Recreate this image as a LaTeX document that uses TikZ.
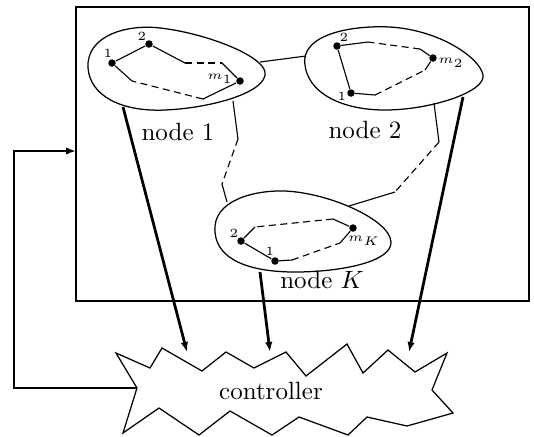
\documentclass[tikz,border=0pt]{standalone}
\usetikzlibrary{arrows.meta}
\begin{document}
\begin{tikzpicture}[x=0.4pt,y=-0.4pt,
  dot/.style={circle,fill,inner sep=0pt,minimum size=3pt},
  lbl/.style={font=\tiny,inner sep=0.5pt},
  blob/.style={line width=0.5pt},
  seg/.style={line width=0.45pt},
  dsh/.style={line width=0.45pt,dash pattern=on 2.8pt off 1.8pt},
  feed/.style={line width=1.1pt,-{Latex[length=4pt,width=3pt]}},
  title/.style={font=\normalsize,inner sep=0pt}]
\useasboundingbox (0,0) rectangle (534,436);

% outer frame
\draw[line width=0.45pt] (76,7) rectangle (529,301);
\coordinate (frameL) at (76,151);

% --- node 1 ---
\draw[blob] (88,68) .. controls (86,35) and (128,24) .. (160,28)
  .. controls (205,33) and (262,55) .. (265,72)
  .. controls (268,92) and (212,108) .. (165,110)
  .. controls (120,112) and (90,95) .. cycle;
\node[dot] (a1) at (112,63) {};
\node[dot] (a2) at (149,44) {};
\node[dot] (am) at (240,81) {};
\node[lbl] at (108,53) {1};
\node[lbl] at (142,36) {2};
\node[lbl] at (220,79) {$m_1$};
\coordinate (a2b) at (185,63);
\coordinate (a2c) at (222,63);
\coordinate (amb) at (203,99);
\coordinate (amc) at (132,81);
\draw[seg] (a1) -- (a2) -- (a2b);
\draw[dsh] (a2b) -- (a2c);
\draw[seg] (a2c) -- (am) -- (amb);
\draw[dsh] (amb) -- (amc);
\draw[seg] (amc) -- (a1);
\node[title] (t1) at (178,132) {node 1};

% --- node 2 ---
\draw[blob] (305,65) .. controls (300,35) and (350,25) .. (390,27)
  .. controls (440,30) and (480,58) .. (483,75)
  .. controls (486,92) and (430,110) .. (385,110)
  .. controls (340,110) and (308,92) .. cycle;
\node[dot] (b2) at (337,46) {};
\node[dot] (b1) at (351,93) {};
\node[dot] (bm) at (433,58) {};
\node[lbl] at (344,37) {2};
\node[lbl] at (342,96) {1};
\node[lbl] at (451,63) {$m_2$};
\coordinate (b1b) at (375,95);
\coordinate (b1c) at (425,70);
\coordinate (bmb) at (420,49);
\coordinate (bmc) at (368,42);
\draw[seg] (b2) -- (b1) -- (b1b);
\draw[dsh] (b1b) -- (b1c);
\draw[seg] (b1c) -- (bm) -- (bmb);
\draw[dsh] (bmb) -- (bmc);
\draw[seg] (bmc) -- (b2);
\node[title] (t2) at (365,130) {node 2};

% --- node K ---
\draw[blob] (215,232) .. controls (212,200) and (255,190) .. (285,191)
  .. controls (330,193) and (390,220) .. (391,242)
  .. controls (392,262) and (340,272) .. (295,272)
  .. controls (250,272) and (217,260) .. cycle;
\node[dot] (k2) at (241,241) {};
\node[dot] (k1) at (275,261) {};
\node[dot] (km) at (353,228) {};
\node[lbl] at (234,233) {2};
\node[lbl] at (270,251) {1};
\node[lbl] at (364,241) {$m_K$};
\coordinate (k1b) at (292,260);
\coordinate (k1c) at (340,243);
\coordinate (kmb) at (333,219);
\coordinate (kmc) at (255,227);
\draw[seg] (k2) -- (k1) -- (k1b);
\draw[dsh] (k1b) -- (k1c);
\draw[seg] (k1c) -- (km) -- (kmb);
\draw[dsh] (kmb) -- (kmc);
\draw[seg] (kmc) -- (k2);
\node[title] (tK) at (322,280) {node $K$};

% --- links between nodes ---
\coordinate (e1r) at (260,62);
\coordinate (e2l) at (306,56);
\draw[seg] (e1r) -- (e2l);

\coordinate (e1b) at (233,101);
\coordinate (p1) at (238,139);
\coordinate (p2) at (222,184);
\coordinate (eKt) at (227,202);
\draw[seg] (e1b) -- (p1);
\draw[dsh] (p1) -- (p2);
\draw[seg] (p2) -- (eKt);

\coordinate (e2b) at (434,103);
\coordinate (q1) at (439,142);
\coordinate (q2) at (395,192);
\coordinate (eKr) at (349,206);
\draw[seg] (e2b) -- (q1);
\draw[dsh] (q1) -- (q2);
\draw[seg] (q2) -- (eKr);

% --- controller ---
\draw[line width=0.5pt] (116,353) -- (150,368) -- (162,348) -- (202,371) -- (226,352) -- (254,368) -- (286,352) -- (306,376) -- (347,344) -- (363,373) -- (388,350) -- (415,372) -- (447,353) -- (432,390) -- (453,413) -- (407,426) -- (367,417) -- (348,435) -- (299,417) -- (272,435) -- (230,411) -- (199,435) -- (159,408) -- (123,433) -- (137,388) -- cycle;
\node[title] (ctrl) at (271,391) {controller};
\coordinate (c1) at (187,352);
\coordinate (c2) at (270,352);
\coordinate (c3) at (409,352);
\coordinate (cL) at (137,388);

% --- reports to the controller ---
\coordinate (s1) at (123,107);
\coordinate (s2) at (260,272);
\coordinate (s3) at (463,97);
\draw[feed] (s1) -- (c1);
\draw[feed] (s2) -- (c2);
\draw[feed] (s3) -- (c3);

% --- feedback loop ---
\draw[feed] (cL) -- (14,388) -- (14,151) -- (frameL);
\end{tikzpicture}
\end{document}
